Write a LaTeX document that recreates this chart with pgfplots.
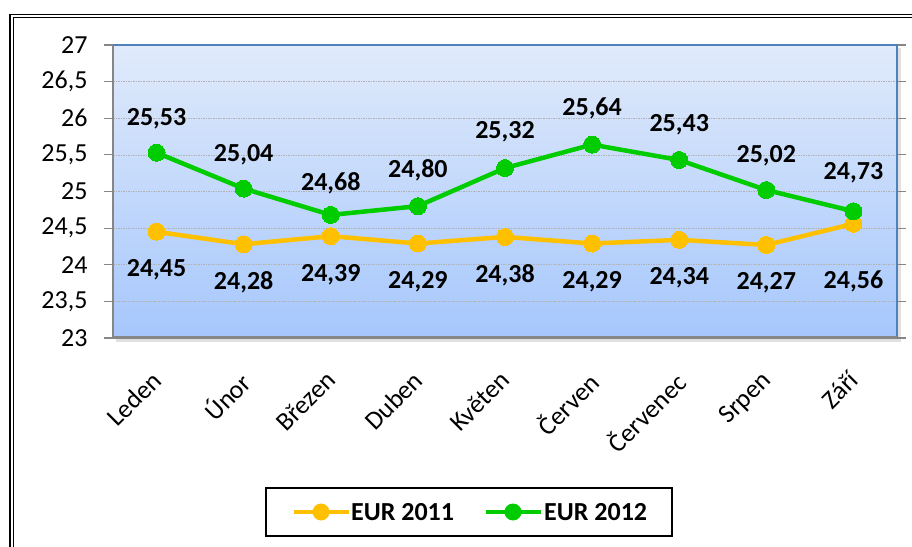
\documentclass[border=0pt]{standalone}
\usepackage{pgfplots}
\usepackage{pgfplotstable}
\pgfplotsset{compat=1.18}
\usepackage{fontspec}
\setmainfont{Carlito}
\definecolor{gold}{RGB}{255,192,0}
\definecolor{grn}{RGB}{0,204,0}
\definecolor{topc}{RGB}{224,234,251}
\definecolor{botc}{RGB}{166,199,252}
\definecolor{bord}{RGB}{79,129,189}
\definecolor{axg}{RGB}{134,134,134}
\pgfplotstableread{
x y dy
0 24.45 -38
1 24.28 -38
2 24.39 -39
3 24.29 -38
4 24.38 -38
5 24.29 -38
6 24.34 -38
7 24.27 -38
8 24.56 -58
}\eurA
\pgfplotstableread{
x y dy
0 25.53 34
1 25.04 34
2 24.68 32
3 24.80 36
4 25.32 36
5 25.64 36
6 25.43 35
7 25.02 34
8 24.73 39
}\eurB
\newcommand{\fs}{\fontsize{26}{30}\selectfont}
\begin{document}
\begin{tikzpicture}[x=1pt,y=1pt]
\useasboundingbox (0,0) rectangle (912,546);
\clip (0,0) rectangle (912,546);
\fill[white] (0,0) rectangle (912,546);
\draw[black, line width=1.2pt, double=white, double distance=2pt] (11.5,-20) -- (11.5,530) -- (940,530);
% shadow of plot area
\fill[black!12] (116,204) rectangle (901,207);
\fill[black!12] (897,204) rectangle (901,498);
\begin{axis}[
  at={(113pt,208pt)}, anchor=south west,
  scale only axis, width=784pt, height=293pt,
  xmin=-0.5, xmax=8.5, ymin=23, ymax=27,
  axis background/.style={shade, top color=topc, bottom color=botc},
  axis line style={draw=none},
  xtick={0,...,8},
  xticklabels={Leden,Únor,Březen,Duben,Květen,Červen,Červenec,Srpen,Září},
  x tick label style={xshift=-6pt, yshift=-3pt, rotate=45, anchor=north east, font=\fs, inner sep=1pt},
  xticklabel shift=18pt,
  major x tick style={draw=none},
  extra x ticks={-0.5,0.5,...,8.5},
  extra x tick labels={},
  extra x tick style={major tick length=9pt, tick align=outside, tick style={axg, line width=1.5pt}, grid=none},
  ytick={23,23.5,...,27},
  y tick label style={font=\fs},
  yticklabel style={/pgf/number format/.cd, use comma, fixed, assume math mode=true},
  yticklabel shift=13pt,
  major y tick style={axg, line width=1.2pt},
  major tick length=9pt, tick align=outside,
  ymajorgrids, major grid style={black!30, line width=0.7pt, dash pattern=on 1.5pt off 1pt},
  clip=false,
  visualization depends on={\thisrow{dy} \as \dy},
  nodes near coords={\pgfmathprintnumber[use comma, fixed, fixed zerofill, precision=2, assume math mode=true]{\pgfplotspointmeta}},
  every node near coord/.style={font=\bfseries\fs, black, anchor=center, yshift=\dy pt},
]
\addplot[gold, line width=4.5pt, mark=*, mark size=8.5pt, mark options={fill=gold, draw=gold, line width=0pt}]
 table[x=x, y=y] {\eurA};
\addplot[grn, line width=4.5pt, mark=*, mark size=8.5pt, mark options={fill=grn, draw=grn, line width=0pt}]
 table[x=x, y=y] {\eurB};
% axis frame
\draw[axg, line width=2pt] (rel axis cs:0,0) -- (rel axis cs:0,1);
\draw[bord, line width=1.8pt] (rel axis cs:0,1) -- (rel axis cs:1,1) -- (rel axis cs:1,0);
\draw[axg, line width=3pt] (rel axis cs:0,0) -- (rel axis cs:1,0);
\end{axis}
% legend
\draw[black, line width=2pt, fill=white] (266,10) rectangle (672,58);
\draw[gold, line width=4.5pt] (294,34) -- (349,34);
\fill[gold] (321,34) circle (8.5);
\node[anchor=west, font=\bfseries\fs, inner sep=0pt] at (351,34) {EUR 2011};
\draw[grn, line width=4.5pt] (486,34) -- (541,34);
\fill[grn] (513,34) circle (8.5);
\node[anchor=west, font=\bfseries\fs, inner sep=0pt] at (544,34) {EUR 2012};
\end{tikzpicture}
\end{document}
